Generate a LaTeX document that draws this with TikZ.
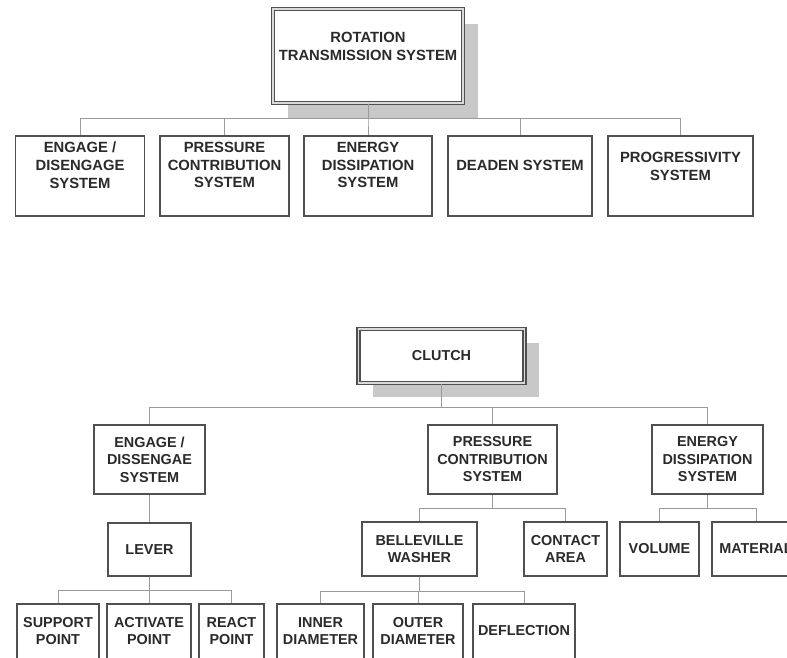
\documentclass[tikz,border=0pt]{standalone}
\usepackage{fontspec}
\setmainfont{Liberation Sans}
\usetikzlibrary{shadows}
\definecolor{boxline}{HTML}{505050}
\definecolor{wire}{HTML}{9A9A9A}
\definecolor{ink}{HTML}{2A2A2A}
\definecolor{shade}{HTML}{C8C8C8}
\begin{document}
\begin{tikzpicture}[x=1pt,y=-1pt,
  box/.style={draw=boxline, line width=1.1pt, fill=white, inner sep=0pt,
    align=center, text=ink, font=\bfseries\fontsize{14.4}{17.5}\selectfont},
  toptext/.style={align=center, text=ink, inner sep=0pt,
    font=\bfseries\fontsize{14.8}{17.8}\selectfont},
  leaftext/.style={align=center, text=ink, inner sep=0pt,
    font=\bfseries\fontsize{14.4}{17.5}\selectfont},
  headbox/.style={box, line width=1.2pt, double=shade!70, double distance=1.8pt,
    drop shadow={shadow xshift=#1, shadow yshift=-#1, fill=shade, opacity=1}},
  link/.style={draw=wire, line width=1pt},
]
\useasboundingbox (0,0) rectangle (787,657);
\clip (0,0) rectangle (787,657);

% ---- rotation transmission system ----
\node[headbox=15pt, minimum width=190pt, minimum height=94pt,
  label={[toptext, yshift=10pt]center:{ROTATION\\TRANSMISSION SYSTEM}}] (root) at (368,56) {};

\node[box, minimum width=129pt, minimum height=80pt,
  label={[toptext, yshift=11pt]center:{ENGAGE /\\DISENGAGE\\SYSTEM}}] (e1) at (80,176) {};
\node[box, minimum width=129pt, minimum height=80pt,
  label={[toptext, yshift=11pt]center:{PRESSURE\\CONTRIBUTION\\SYSTEM}}] (e2) at (224.5,176) {};
\node[box, minimum width=128pt, minimum height=80pt,
  label={[toptext, yshift=11pt]center:{ENERGY\\DISSIPATION\\SYSTEM}}] (e3) at (368,176) {};
\node[box, minimum width=144pt, minimum height=80pt,
  label={[toptext, yshift=11pt]center:{DEADEN SYSTEM}}] (e4) at (520,176) {};
\node[box, minimum width=145pt, minimum height=80pt,
  label={[toptext, yshift=10pt]center:{PROGRESSIVITY\\SYSTEM}}] (e5) at (680.5,176) {};

\foreach \c in {e1,e2,e3,e4,e5}
  \draw[link] (root.south) -- ++(0,15) -| (\c.north);

% ---- clutch ----
\node[headbox=14pt, minimum width=166pt, minimum height=54pt] (clutch) at (441.5,356) {CLUTCH};

\node[box, minimum width=111pt, minimum height=69pt] (b1) at (149.5,459.5) {ENGAGE /\\DISSENGAE\\SYSTEM};
\node[box, minimum width=129pt, minimum height=69pt] (b2) at (492.5,459.5) {PRESSURE\\CONTRIBUTION\\SYSTEM};
\node[box, minimum width=111pt, minimum height=69pt] (b3) at (707.5,459.5) {ENERGY\\DISSIPATION\\SYSTEM};

\node[box, minimum width=83pt, minimum height=53pt] (lever) at (149.5,549.5) {LEVER};
\node[box, minimum width=115pt, minimum height=54pt] (bell) at (419.5,549) {BELLEVILLE\\WASHER};
\node[box, minimum width=83pt, minimum height=54pt] (contact) at (565.5,549) {CONTACT\\AREA};
\node[box, minimum width=79pt, minimum height=54pt] (volume) at (659.5,549) {VOLUME};
\node[box, minimum width=88pt, minimum height=54pt] (material) at (756,549) {MATERIAL};

% bottom row runs past the lower edge
\node[box, minimum width=82pt, minimum height=64pt,
  label={[leaftext, yshift=5pt]center:{SUPPORT\\POINT}}] (support) at (58,636) {};
\node[box, minimum width=84pt, minimum height=64pt,
  label={[leaftext, yshift=5pt]center:{ACTIVATE\\POINT}}] (activate) at (149,636) {};
\node[box, minimum width=65pt, minimum height=64pt,
  label={[leaftext, yshift=5pt]center:{REACT\\POINT}}] (react) at (231.5,636) {};
\node[box, minimum width=87pt, minimum height=64pt,
  label={[leaftext, yshift=5pt]center:{INNER\\DIAMETER}}] (inner) at (320.5,636) {};
\node[box, minimum width=90pt, minimum height=64pt,
  label={[leaftext, yshift=5pt]center:{OUTER\\DIAMETER}}] (outer) at (418,636) {};
\node[box, minimum width=102pt, minimum height=64pt,
  label={[leaftext, yshift=5pt]center:{DEFLECTION}}] (deflect) at (524,636) {};

\foreach \c in {b1,b2,b3}
  \draw[link] (clutch.south) -- ++(0,24) -| (\c.north);
\draw[link] (b1.south) -- (lever.north);
\foreach \c in {bell,contact}
  \draw[link] (b2.south) -- ++(0,14) -| (\c.north);
\foreach \c in {volume,material}
  \draw[link] (b3.south) -- ++(0,14) -| (\c.north);
\foreach \c in {support,activate,react}
  \draw[link] (lever.south) -- ++(0,14) -| (\c.north);
\foreach \c in {inner,outer,deflect}
  \draw[link] (bell.south) -- ++(0,15) -| (\c.north);
\end{tikzpicture}
\end{document}
